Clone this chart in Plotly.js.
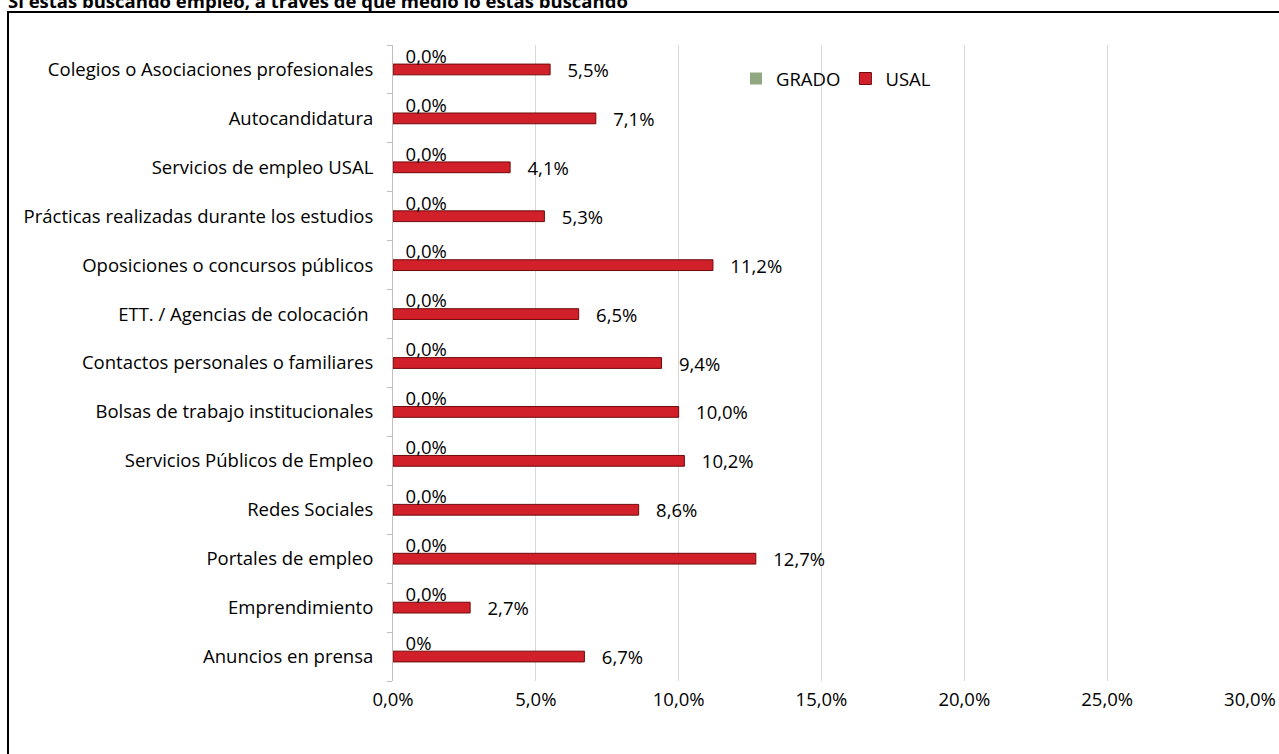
<!DOCTYPE html>
<html>
<head>
<meta charset="utf-8">
<script src="https://cdn.plot.ly/plotly-3.0.1.min.js"></script>
<style>
html,body{margin:0;padding:0;background:#fff;overflow:hidden;}
#chart{width:1279px;height:754px;}
</style>
</head>
<body>
<div id="chart"></div>
<script>
const chartTitle = "Si estás buscando empleo, a través de qué medio lo estás buscando";
const categories = [
  "Anuncios en prensa",
  "Emprendimiento",
  "Portales de empleo",
  "Redes Sociales",
  "Servicios Públicos de Empleo",
  "Bolsas de trabajo institucionales",
  "Contactos personales o familiares",
  "ETT. / Agencias de colocación ",
  "Oposiciones o concursos públicos",
  "Prácticas realizadas durante los estudios",
  "Servicios de empleo USAL",
  "Autocandidatura",
  "Colegios o Asociaciones profesionales"
];
const usalValues = [6.7, 2.7, 12.7, 8.6, 10.2, 10.0, 9.4, 6.5, 11.2, 5.3, 4.1, 7.1, 5.5];
const gradoValues = [0, 0, 0, 0, 0, 0, 0, 0, 0, 0, 0, 0, 0];
const gradoLabels = ["0%", "0,0%", "0,0%", "0,0%", "0,0%", "0,0%", "0,0%", "0,0%", "0,0%", "0,0%", "0,0%", "0,0%", "0,0%"];
const xTickVals = [0, 5, 10, 15, 20, 25, 30];
const xTickText = ["0,0%", "5,0%", "10,0%", "15,0%", "20,0%", "25,0%", "30,0%"];

const fmt = v => v.toFixed(1).replace('.', ',') + '%';
const pad3 = '\u00a0\u00a0\u00a0';
const pad2 = '\u00a0\u00a0';

const FONT = "'Open Sans', 'Noto Sans', sans-serif";
const FS = 18.5;

const traces = [
  {
    type: 'bar', orientation: 'h', name: 'USAL',
    y: categories, x: usalValues,
    width: 0.22, offset: -0.11,
    marker: {color: '#D1202A', line: {color: '#6e0a0a', width: 1}},
    text: usalValues.map(v => pad3 + fmt(v)),
    textposition: 'outside', cliponaxis: false, constraintext: 'none',
    textfont: {color: '#000', size: FS, family: FONT},
    legendrank: 2, hoverinfo: 'x+y'
  },
  {
    type: 'bar', orientation: 'h', name: 'GRADO',
    y: categories, x: gradoValues,
    width: 0.2, offset: 0.19,
    marker: {color: '#8FA882', line: {color: '#5d7352', width: 0}},
    text: gradoLabels.map(t => pad2 + t),
    textposition: 'outside', cliponaxis: false, constraintext: 'none',
    textfont: {color: '#000', size: FS, family: FONT},
    legendrank: 1, hoverinfo: 'x+y'
  }
];

const L = 393, R = 29, T = 45, B = 73;
const W = 1279, H = 754;
const pw = W - L - R, ph = H - T - B;
const px2x = px => (px - L) / pw;
const py2y = py => (H - B - py) / ph;

const layout = {
  width: W, height: H,
  margin: {l: L, r: R, t: T, b: B},
  paper_bgcolor: '#fff', plot_bgcolor: '#fff',
  font: {family: FONT, size: FS, color: '#000'},
  barmode: 'overlay',
  showlegend: true,
  legend: {
    orientation: 'h', x: px2x(736), y: py2y(60), xanchor: 'left', yanchor: 'top',
    font: {size: FS, family: FONT, color: '#000'},
    bgcolor: 'rgba(0,0,0,0)', itemwidth: 30, tracegroupgap: 0
  },
  xaxis: {
    range: [0, 30], tickvals: xTickVals, ticktext: xTickText,
    showgrid: true, gridcolor: '#d9d9d9', gridwidth: 1,
    zeroline: false, showline: false,
    ticks: '', ticklabelstandoff: 5,
    tickfont: {size: FS, family: FONT, color: '#000'}, fixedrange: true
  },
  yaxis: {
    type: 'category', categoryorder: 'array', categoryarray: categories,
    showline: true, linecolor: '#bfbfbf', linewidth: 1,
    ticks: 'outside', tickson: 'boundaries', ticklen: 5, tickcolor: '#bfbfbf',
    ticklabelstandoff: 15,
    showgrid: false, zeroline: false,
    tickfont: {size: FS, family: FONT, color: '#000'}, fixedrange: true
  },
  shapes: [
    {type: 'line', xref: 'paper', yref: 'paper', x0: px2x(8), x1: px2x(8), y0: py2y(12), y1: py2y(800), line: {color: '#000', width: 2}},
    {type: 'line', xref: 'paper', yref: 'paper', x0: px2x(7), x1: px2x(1300), y0: py2y(12), y1: py2y(12), line: {color: '#000', width: 2}}
  ],
  annotations: [
    {text: '<b>' + chartTitle + '</b>', xref: 'paper', yref: 'paper',
     x: px2x(6), y: py2y(0), xanchor: 'left', yanchor: 'middle', showarrow: false,
     font: {size: 18.5, family: FONT, color: '#000'}}
  ]
};

Plotly.newPlot('chart', traces, layout, {displayModeBar: false, staticPlot: true});
</script>
</body>
</html>
